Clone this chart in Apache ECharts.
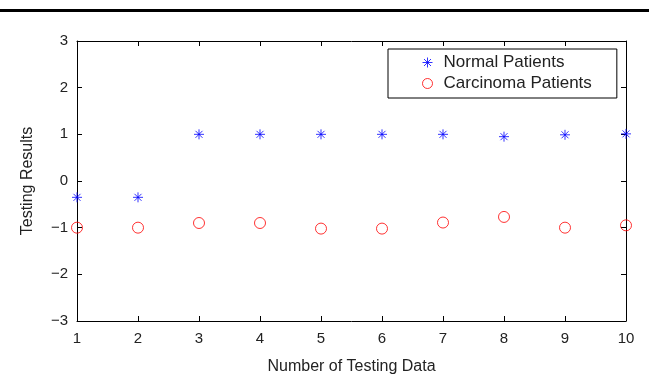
<!DOCTYPE html>
<html>
<head>
<meta charset="utf-8">
<script src="https://cdn.jsdelivr.net/npm/echarts@6/dist/echarts.min.js"></script>
<style>html,body{margin:0;padding:0;background:#fff;}#c{width:649px;height:374px;}</style>
</head>
<body>
<div id="c"></div>
<script>
const testIndex = [1, 2, 3, 4, 5, 6, 7, 8, 9, 10];
const normalValues = [-0.35, -0.35, 1.0, 1.0, 1.0, 1.0, 1.0, 0.95, 0.99, 1.01];
const carcinomaValues = [-1.0, -1.0, -0.9, -0.9, -1.02, -1.02, -0.89, -0.77, -1.0, -0.95];
const xTicks = [1, 2, 3, 4, 5, 6, 7, 8, 9, 10];
const yTicks = [-3, -2, -1, 0, 1, 2, 3];

const FONT = 'Liberation Sans, Arial, Helvetica, sans-serif';
const chart = echarts.init(document.getElementById('c'), null, {renderer: 'canvas'});
const star = 'path://M0,-5L0,5M-5,0L5,0M-3.5,-3.5L3.5,3.5M-3.5,3.5L3.5,-3.5';
const fmtY = v => v < 0 ? '\u2212' + Math.abs(v) : String(v);

const baseAxis = {
  axisLine: {show: true, onZero: false, lineStyle: {color: '#000', width: 1}},
  axisTick: {show: true, inside: true, length: 5, lineStyle: {color: '#000'}},
  splitLine: {show: false}
};

chart.setOption({
  animation: false,
  backgroundColor: '#fff',
  graphic: [{type: 'rect', shape: {x: 0, y: 9, width: 649, height: 3}, style: {fill: '#000'}}],
  grid: {left: 77, right: 23, top: 41, bottom: 53, containLabel: false, outerBoundsMode: 'none'},
  legend: {
    orient: 'vertical', left: 388, top: 49,
    backgroundColor: '#fff', borderColor: '#000', borderWidth: 1,
    padding: [5, 25, 6, 32], itemGap: 4, itemWidth: 10, itemHeight: 10,
    textStyle: {fontFamily: FONT, fontSize: 17, color: '#222', padding: [0, 0, 0, 6]},
    data: [
      {name: 'Normal Patients', itemStyle: {color: 'none', borderColor: '#0000ff', borderWidth: 1}},
      {name: 'Carcinoma Patients', itemStyle: {color: 'none', borderColor: '#ff0000', borderWidth: 1}}
    ]
  },
  xAxis: [
    Object.assign({}, baseAxis, {
      type: 'value', min: xTicks[0], max: xTicks[xTicks.length - 1], interval: 1, position: 'bottom',
      axisLabel: {fontFamily: FONT, fontSize: 15, color: '#222', margin: 10},
      name: 'Number of Testing Data', nameLocation: 'middle', nameGap: 38,
      nameTextStyle: {fontFamily: FONT, fontSize: 16, color: '#222'}
    }),
    Object.assign({}, baseAxis, {
      type: 'value', min: xTicks[0], max: xTicks[xTicks.length - 1], interval: 1, position: 'top',
      axisLabel: {show: false}
    })
  ],
  yAxis: [
    Object.assign({}, baseAxis, {
      type: 'value', min: yTicks[0], max: yTicks[yTicks.length - 1], interval: 1, position: 'left',
      axisLabel: {fontFamily: FONT, fontSize: 15, color: '#222', margin: 9, formatter: fmtY},
      name: 'Testing Results', nameLocation: 'middle', nameGap: 41,
      nameTextStyle: {fontFamily: FONT, fontSize: 16, color: '#222'}
    }),
    Object.assign({}, baseAxis, {
      type: 'value', min: yTicks[0], max: yTicks[yTicks.length - 1], interval: 1, position: 'right',
      axisLabel: {show: false}
    })
  ],
  series: [
    {
      name: 'Normal Patients', type: 'scatter', clip: false,
      symbol: star, symbolSize: 10,
      itemStyle: {color: 'none', borderColor: '#0000ff', borderWidth: 1},
      data: testIndex.map((x, i) => [x, normalValues[i]])
    },
    {
      name: 'Carcinoma Patients', type: 'scatter', clip: false,
      symbol: 'circle', symbolSize: 11,
      itemStyle: {color: 'none', borderColor: '#ff0000', borderWidth: 1},
      data: testIndex.map((x, i) => [x, carcinomaValues[i]])
    }
  ]
});
</script>
</body>
</html>
